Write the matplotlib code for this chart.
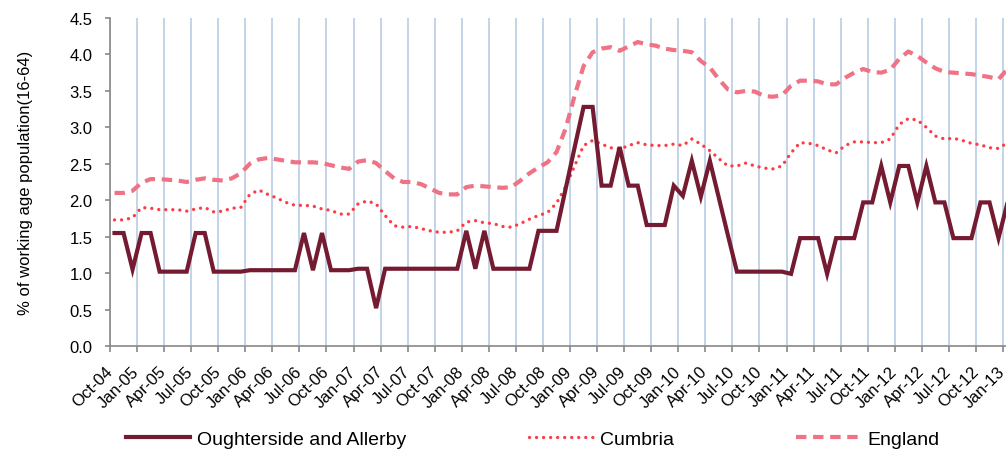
import matplotlib.pyplot as plt
import numpy as np
import pandas as pd
from matplotlib.transforms import ScaledTranslation

plt.rcParams['font.family'] = ['Liberation Sans', 'DejaVu Sans']

months = pd.date_range('2004-10-01', periods=100, freq='MS')
month_labels = [m.strftime('%b-%y') for m in months]

oughterside = [1.55, 1.55, 1.05, 1.55, 1.55, 1.02, 1.02, 1.02, 1.02, 1.55,
               1.55, 1.02, 1.02, 1.02, 1.02, 1.04, 1.04, 1.04, 1.04, 1.04,
               1.04, 1.55, 1.04, 1.55, 1.04, 1.04, 1.04, 1.06, 1.06, 0.52,
               1.06, 1.06, 1.06, 1.06, 1.06, 1.06, 1.06, 1.06, 1.06, 1.58,
               1.06, 1.58, 1.06, 1.06, 1.06, 1.06, 1.06, 1.58, 1.58, 1.58,
               2.15, 2.72, 3.28, 3.28, 2.20, 2.20, 2.73, 2.20, 2.20, 1.66,
               1.66, 1.66, 2.20, 2.06, 2.54, 2.05, 2.54, 2.03, 1.52, 1.02,
               1.02, 1.02, 1.02, 1.02, 1.02, 0.99, 1.48, 1.48, 1.48, 0.99,
               1.48, 1.48, 1.48, 1.97, 1.97, 2.47, 1.97, 2.47, 2.47, 1.97,
               2.47, 1.97, 1.97, 1.48, 1.48, 1.48, 1.97, 1.97, 1.48, 1.97]

cumbria = [1.73, 1.73, 1.76, 1.90, 1.89, 1.87, 1.87, 1.87, 1.85, 1.88,
           1.90, 1.84, 1.85, 1.89, 1.90, 2.08, 2.14, 2.08, 2.03, 1.97,
           1.93, 1.93, 1.92, 1.88, 1.86, 1.81, 1.81, 1.95, 1.99, 1.95,
           1.79, 1.65, 1.63, 1.64, 1.61, 1.58, 1.56, 1.56, 1.58, 1.70,
           1.72, 1.69, 1.68, 1.64, 1.63, 1.68, 1.74, 1.79, 1.83, 1.96,
           2.18, 2.47, 2.75, 2.82, 2.77, 2.72, 2.70, 2.75, 2.79, 2.76,
           2.75, 2.75, 2.77, 2.75, 2.84, 2.77, 2.68, 2.57, 2.47, 2.47,
           2.51, 2.47, 2.44, 2.43, 2.47, 2.65, 2.79, 2.78, 2.75, 2.69,
           2.65, 2.75, 2.80, 2.80, 2.79, 2.79, 2.84, 3.04, 3.12, 3.10,
           3.00, 2.88, 2.84, 2.85, 2.82, 2.78, 2.76, 2.72, 2.71, 2.79]

england = [2.10, 2.10, 2.13, 2.24, 2.29, 2.29, 2.28, 2.27, 2.25, 2.28,
           2.30, 2.28, 2.27, 2.30, 2.37, 2.50, 2.56, 2.58, 2.56, 2.54,
           2.52, 2.52, 2.52, 2.51, 2.48, 2.45, 2.43, 2.53, 2.55, 2.51,
           2.40, 2.30, 2.25, 2.25, 2.22, 2.16, 2.10, 2.08, 2.08, 2.18,
           2.20, 2.19, 2.18, 2.17, 2.18, 2.27, 2.37, 2.45, 2.52, 2.66,
           2.98, 3.43, 3.84, 4.03, 4.08, 4.10, 4.05, 4.11, 4.17, 4.14,
           4.12, 4.08, 4.06, 4.05, 4.03, 3.91, 3.82, 3.66, 3.52, 3.48,
           3.50, 3.49, 3.43, 3.42, 3.44, 3.57, 3.64, 3.64, 3.63, 3.59,
           3.59, 3.68, 3.75, 3.80, 3.76, 3.75, 3.79, 3.94, 4.04, 3.98,
           3.89, 3.81, 3.76, 3.75, 3.74, 3.73, 3.71, 3.69, 3.66, 3.80]

W, H = 1006, 452
fig = plt.figure(figsize=(W / 100, H / 100), dpi=100)
ax = fig.add_axes([110 / W, (H - 347) / H, 1 - 110 / W, (347 - 19) / H])

# points sit between tick marks (category axis)
x = np.arange(len(months)) + 0.5
ax.plot(x, england, color='#EF7285', lw=3, linestyle=(0, (2.5, 1.6)),
        label='England', zorder=3)
ax.plot(x, cumbria, color='#FF3B45', lw=2.4, linestyle=(0, (0.01, 2.1)),
        dash_capstyle='round', label='Cumbria', zorder=4)
ax.plot(x, oughterside, color='#741B31', lw=3, solid_joinstyle='miter',
        label='Oughterside and Allerby', zorder=5)

ticks = np.arange(0, len(months), 3)
ax.set_xticks(ticks)
ax.set_xticklabels([month_labels[i] for i in ticks], rotation=45,
                   ha='right', va='center', rotation_mode='anchor', fontsize=12)
shift = ScaledTranslation(0.09, 0, fig.dpi_scale_trans)
for lab in ax.get_xticklabels():
    lab.set_transform(lab.get_transform() + shift)
ax.set_xlim(0, 99.33)
ax.set_ylim(0, 4.5)
ax.set_yticks(np.arange(0, 4.51, 0.5))
ax.set_yticklabels([f'{v:.1f}' for v in np.arange(0, 4.51, 0.5)], fontsize=12)
ax.grid(axis='x', color='#B9CDE5', lw=1.2, zorder=0)
ax.set_axisbelow(True)

for s in ['top', 'right']:
    ax.spines[s].set_visible(False)
for s in ['left', 'bottom']:
    ax.spines[s].set_color('#888888')
    ax.spines[s].set_linewidth(1.2)
ax.tick_params(axis='x', length=4.3, width=1.2, color='#888888', pad=12)
ax.tick_params(axis='y', length=3.6, width=1.2, color='#888888', pad=9)

fig.text(26 / W, 1 - 183 / H, '% of working age population(16-64)',
         rotation=90, ha='center', va='center', fontsize=12)

handles, labels = ax.get_legend_handles_labels()
order = [2, 1, 0]
fig.legend([handles[i] for i in order], [labels[i] for i in order],
           loc='center left', bbox_to_anchor=(126 / W, 1 - 440 / H),
           ncol=3, frameon=False, fontsize=14, handlelength=3.3,
           handletextpad=0.35, columnspacing=6.3, borderpad=0,
           borderaxespad=0)

fig.savefig('out.png', dpi=100)
